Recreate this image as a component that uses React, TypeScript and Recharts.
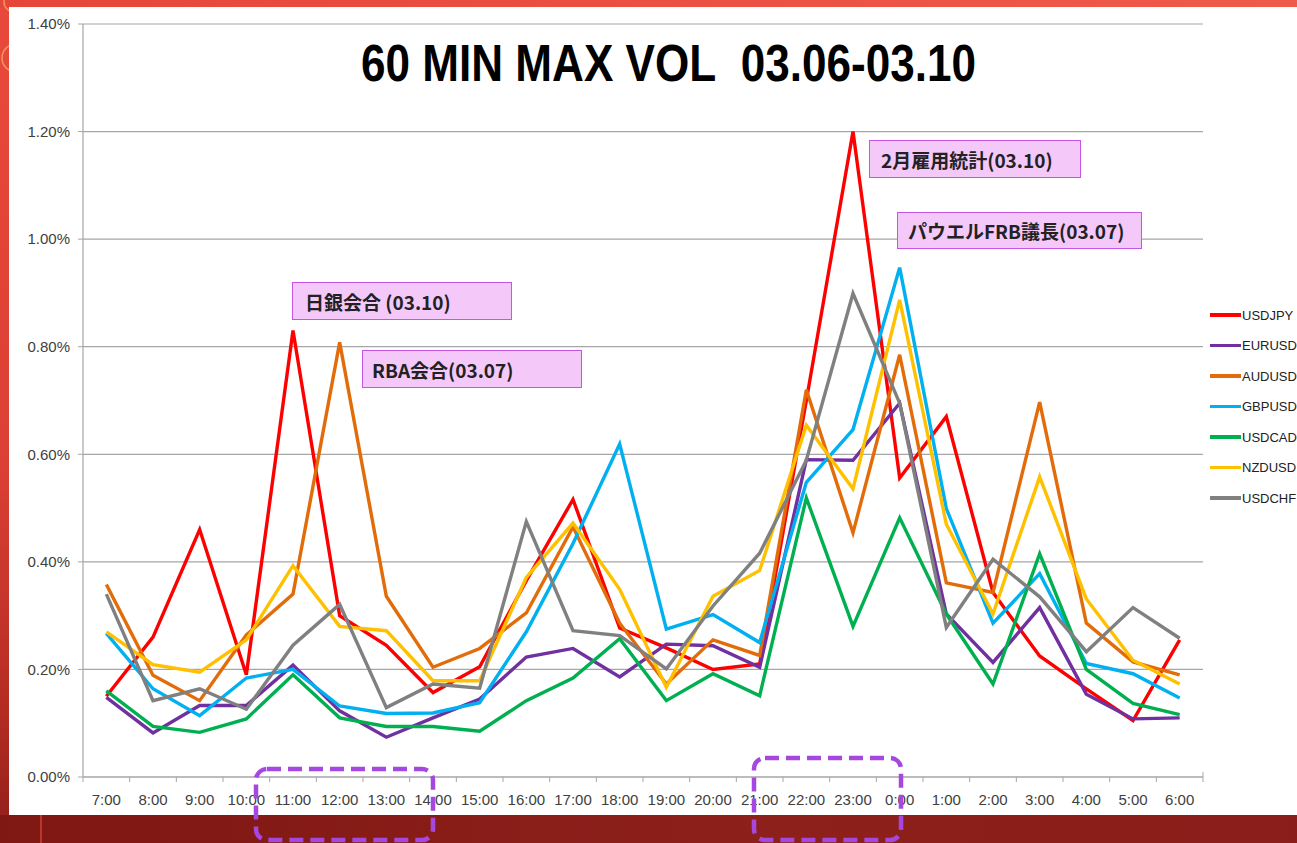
import React from 'react';
import { LineChart, Line, XAxis, YAxis, CartesianGrid } from 'recharts';

const times = ['7:00','8:00','9:00','10:00','11:00','12:00','13:00','14:00','15:00','16:00','17:00','18:00','19:00','20:00','21:00','22:00','23:00','0:00','1:00','2:00','3:00','4:00','5:00','6:00'];

const usdjpy = [0.15,0.26,0.46,0.19,0.83,0.30,0.245,0.157,0.205,0.365,0.516,0.277,0.24,0.20,0.21,0.70,1.20,0.556,0.67,0.343,0.225,0.164,0.105,0.255];
const eurusd = [0.148,0.082,0.133,0.133,0.208,0.123,0.074,0.110,0.145,0.223,0.239,0.186,0.247,0.244,0.204,0.590,0.589,0.695,0.303,0.213,0.315,0.154,0.108,0.110];
const audusd = [0.358,0.189,0.142,0.264,0.340,0.808,0.336,0.204,0.239,0.305,0.465,0.286,0.173,0.255,0.226,0.720,0.454,0.785,0.361,0.343,0.697,0.286,0.214,0.190];
const gbpusd = [0.267,0.164,0.114,0.184,0.200,0.132,0.118,0.119,0.138,0.270,0.434,0.619,0.275,0.302,0.250,0.548,0.646,0.947,0.499,0.286,0.378,0.211,0.192,0.147];
const usdcad = [0.160,0.094,0.083,0.108,0.190,0.110,0.094,0.094,0.085,0.142,0.184,0.257,0.142,0.192,0.151,0.519,0.280,0.482,0.303,0.173,0.415,0.200,0.137,0.116];
const nzdusd = [0.270,0.209,0.195,0.255,0.393,0.280,0.272,0.179,0.179,0.371,0.472,0.349,0.167,0.336,0.384,0.654,0.536,0.887,0.470,0.303,0.558,0.331,0.217,0.173];
const usdchf = [0.340,0.142,0.164,0.126,0.245,0.321,0.129,0.173,0.165,0.475,0.272,0.263,0.201,0.318,0.416,0.589,0.899,0.695,0.278,0.405,0.335,0.233,0.315,0.258];

const yTicks = [0, 0.2, 0.4, 0.6, 0.8, 1.0, 1.2, 1.4];

const seriesNames = ['USDJPY','EURUSD','AUDUSD','GBPUSD','USDCAD','NZDUSD','USDCHF'];
const seriesColors = ['#ff0000','#7030a0','#e36c0a','#00b0f0','#00b050','#ffc000','#808080'];
const seriesValues = [usdjpy, eurusd, audusd, gbpusd, usdcad, nzdusd, usdchf];

const titleText = '60 MIN MAX VOL\u00a0\u00a003.06-03.10';

const annotations = [
  { text: '日銀会合 (03.10)', left: 292, top: 282, width: 220, height: 38, pad: 12 },
  { text: 'RBA会合(03.07)', left: 362, top: 350, width: 220, height: 38, pad: 9 },
  { text: '2月雇用統計(03.10)', left: 869, top: 140, width: 212, height: 38, pad: 11 },
  { text: 'パウエルFRB議長(03.07)', left: 897, top: 212, width: 245, height: 37, pad: 10 },
];

const data = times.map((t, i) => {
  const row: any = { time: t };
  seriesNames.forEach((n, k) => { row[n] = seriesValues[k][i]; });
  return row;
});

const W = 1297;
const H = 843;
const PLOT_LEFT = 83;
const PLOT_RIGHT = 1203;
const PLOT_TOP = 24;
const PLOT_BOTTOM = 777;
const STEP = (PLOT_RIGHT - PLOT_LEFT) / times.length;
const NARROW = '"Liberation Sans Narrow", "Liberation Sans", Arial, sans-serif';
const GRID = '#a6a6a6';

const XTick = (props: any) => {
  const { x, y, payload, index } = props;
  const last = index === times.length - 1;
  return (
    <g>
      <line x1={x - STEP / 2} x2={x - STEP / 2} y1={y} y2={y + 5} stroke={GRID} strokeWidth={1} />
      {last && <line x1={x + STEP / 2} x2={x + STEP / 2} y1={y - 5} y2={y + 5} stroke={GRID} strokeWidth={1} />}
      <text x={x} y={y + 28} textAnchor="middle" fontFamily={NARROW} fontSize={15} fill="#404040">
        {payload.value}
      </text>
    </g>
  );
};

export default function App() {
  return (
    <div
      style={{
        position: 'absolute',
        left: 0,
        top: 0,
        width: W,
        height: H,
        overflow: 'hidden',
        background: 'linear-gradient(to bottom, #e8493b 0%, #dc4034 55%, #b32b22 85%, #8e1e1a 100%)',
      }}
    >
      <div style={{ position: 'absolute', left: 0, top: 0, width: W, height: 8, background: 'linear-gradient(to right, #e6463a, #ef5a4b)' }} />
      <div style={{ position: 'absolute', left: 0, top: 815, width: W, height: H - 815, background: 'linear-gradient(to right, #7f1713, #8e201b 60%, #8a1d19)' }} />
      <div style={{ position: 'absolute', left: 40, top: 815, width: 2, height: H - 815, background: '#b8382a' }} />
      <svg width={12} height={200} style={{ position: 'absolute', left: 0, top: 0 }}>
        <circle cx={14} cy={2} r={10} fill="none" stroke="#f2935e" strokeWidth={1.5} />
        <circle cx={16} cy={58} r={14} fill="none" stroke="#f2935e" strokeWidth={1.5} />
      </svg>
      <div style={{ position: 'absolute', left: 9, top: 7, width: W - 9, height: 808, background: '#ffffff' }} />

      <div style={{ position: 'absolute', left: 0, top: 0 }}>
        <LineChart
          width={W}
          height={H}
          data={data}
          margin={{ top: PLOT_TOP, right: W - PLOT_RIGHT, bottom: 0, left: 0 }}
        >
          <CartesianGrid vertical={false} stroke={GRID} strokeWidth={1.2} />
          <XAxis
            dataKey="time"
            interval={0}
            height={H - PLOT_BOTTOM}
            padding={{ left: STEP / 2, right: STEP / 2 }}
            axisLine={{ stroke: GRID, strokeWidth: 1.2 }}
            tickLine={false}
            tickSize={0}
            tickMargin={0}
            tick={<XTick />}
          />
          <YAxis
            width={PLOT_LEFT}
            domain={[0, 1.4]}
            ticks={yTicks}
            interval={0}
            axisLine={{ stroke: GRID, strokeWidth: 1.2 }}
            tickLine={{ stroke: GRID }}
            tickSize={5}
            tickMargin={8}
            tickFormatter={(v: number) => v.toFixed(2) + '%'}
            tick={{ fontFamily: NARROW, fontSize: 15, fill: '#404040' }}
          />
          {seriesNames.map((n, k) => (
            <Line
              key={n}
              type="linear"
              dataKey={n}
              stroke={seriesColors[k]}
              strokeWidth={3.4}
              dot={false}
              activeDot={false}
              isAnimationActive={false}
            />
          ))}
        </LineChart>
      </div>

      <svg width={W} height={H} style={{ position: 'absolute', left: 0, top: 0, pointerEvents: 'none' }}>
        <text
          x={361}
          y={81}
          textLength={615}
          lengthAdjust="spacingAndGlyphs"
          fontFamily={NARROW}
          fontWeight="bold"
          fontSize={52}
          fill="#000000"
        >
          {titleText}
        </text>
        <rect x={256} y={769} width={177} height={71} rx={11} ry={11} fill="none" stroke="#a548e0" strokeWidth={4.5} strokeDasharray="14 7" />
        <rect x={754} y={758} width={147} height={82} rx={11} ry={11} fill="none" stroke="#a548e0" strokeWidth={4.5} strokeDasharray="14 7" />
      </svg>

      {annotations.map((a) => (
        <div
          key={a.text}
          style={{
            position: 'absolute',
            left: a.left,
            top: a.top,
            width: a.width,
            height: a.height,
            boxSizing: 'border-box',
            background: '#f5c8fa',
            border: '1.5px solid #c455e6',
            display: 'flex',
            alignItems: 'center',
            paddingLeft: a.pad,
            fontFamily: '"Noto Sans CJK JP", "Noto Sans", sans-serif',
            fontWeight: 700,
            fontSize: 19,
            color: '#222222',
            whiteSpace: 'nowrap',
          }}
        >
          {a.text}
        </div>
      ))}

      {seriesNames.map((n, k) => (
        <div
          key={n}
          style={{
            position: 'absolute',
            left: 1210,
            top: 315 + k * 30.5 - 9,
            height: 18,
            display: 'flex',
            alignItems: 'center',
            fontFamily: NARROW,
            fontSize: 13,
            color: '#222222',
            whiteSpace: 'nowrap',
          }}
        >
          <div style={{ width: 31, height: 3.5, background: seriesColors[k], marginRight: 1 }} />
          {n}
        </div>
      ))}
    </div>
  );
}
